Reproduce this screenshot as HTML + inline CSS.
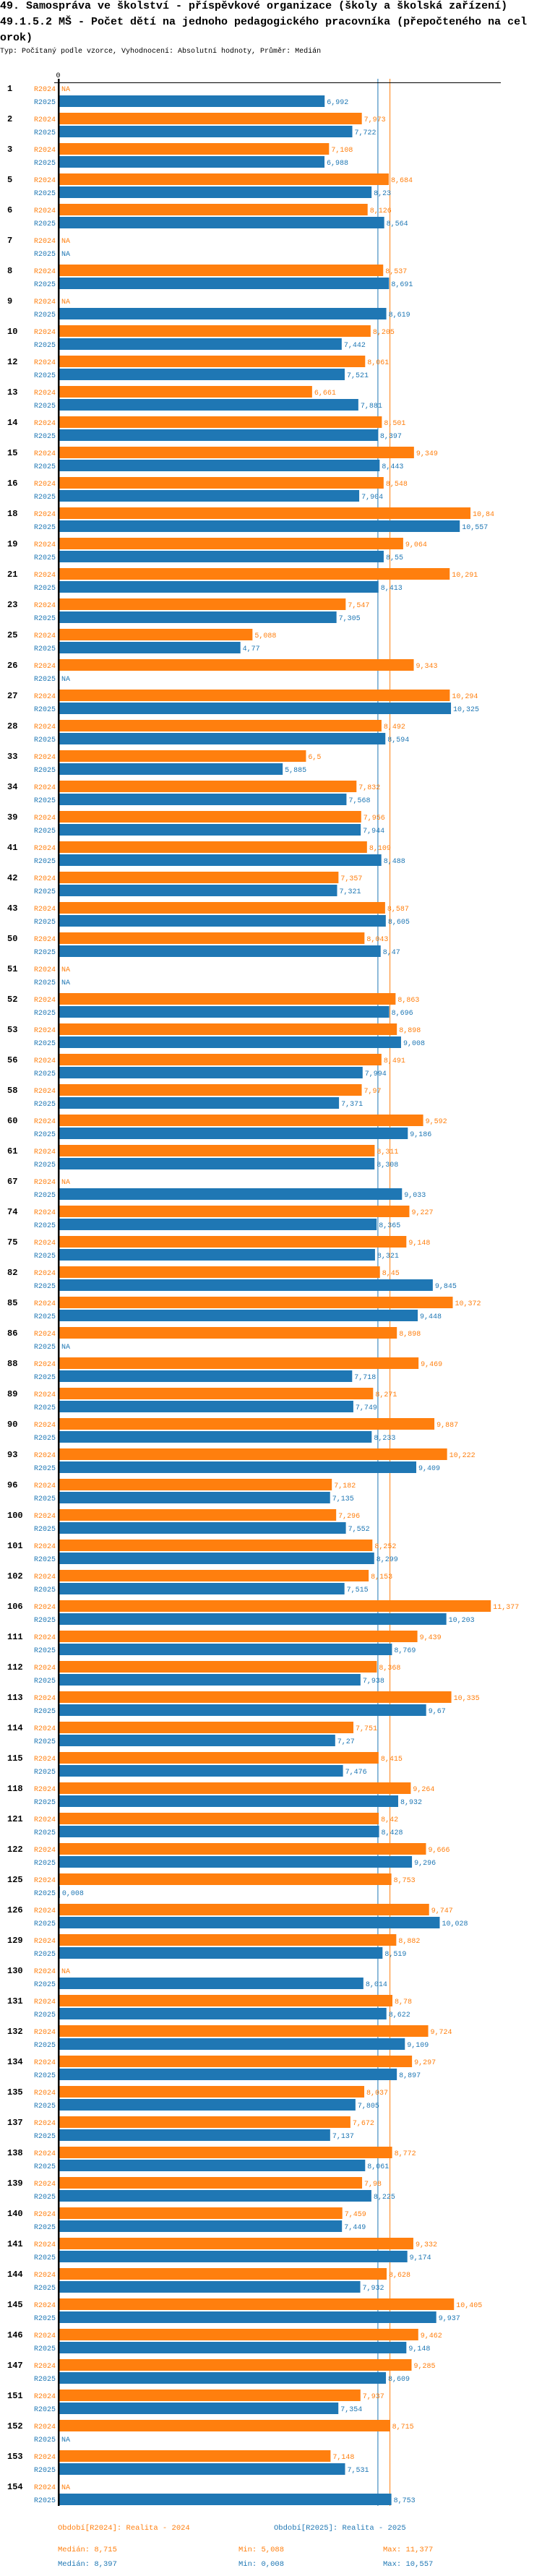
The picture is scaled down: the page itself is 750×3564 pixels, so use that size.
<!DOCTYPE html>
<html>
<head>
<meta charset="utf-8">
<style>
  html,body{margin:0;padding:0;background:#fff;}
  body{width:750px;height:3564px;position:relative;overflow:hidden;font-family:"Liberation Mono",monospace;}
  .title{position:absolute;left:0;font-weight:bold;font-size:15px;color:#000;white-space:nowrap;line-height:22px;}
  .sub{position:absolute;left:0;top:66px;font-size:10px;color:#000;white-space:nowrap;}
  svg{position:absolute;left:0;top:0;}
</style>
</head>
<body>
<div class="title" style="top:-2px">49. Samospráva ve školství - příspěvkové organizace (školy a školská zařízení)</div>
<div class="title" style="top:20px">49.1.5.2 MŠ - Počet dětí na jednoho pedagogického pracovníka (přepočteného na cel</div>
<div class="title" style="top:42px">orok)</div>
<div class="sub">Typ: Počítaný podle vzorce, Vyhodnocení: Absolutní hodnoty, Průměr: Medián</div>
<svg id="chart" width="750" height="3564"></svg>
<script>
const categories = ["1","2","3","5","6","7","8","9","10","12","13","14","15","16","18","19","21","23","25","26","27","28","33","34","39","41","42","43","50","51","52","53","56","58","60","61","67","74","75","82","85","86","88","89","90","93","96","100","101","102","106","111","112","113","114","115","118","121","122","125","126","129","130","131","132","134","135","137","138","139","140","141","144","145","146","147","151","152","153","154"];
const values2024 = [null,7.973,7.108,8.684,8.126,null,8.537,null,8.205,8.061,6.661,8.501,9.349,8.548,10.84,9.064,10.291,7.547,5.088,9.343,10.294,8.492,6.5,7.832,7.956,8.109,7.357,8.587,8.043,null,8.863,8.898,8.491,7.97,9.592,8.311,null,9.227,9.148,8.45,10.372,8.898,9.469,8.271,9.887,10.222,7.182,7.296,8.252,8.153,11.377,9.439,8.368,10.335,7.751,8.415,9.264,8.42,9.666,8.753,9.747,8.882,null,8.78,9.724,9.297,8.037,7.672,8.772,7.98,7.459,9.332,8.628,10.405,9.462,9.285,7.937,8.715,7.148,null];
const values2025 = [6.992,7.722,6.988,8.23,8.564,null,8.691,8.619,7.442,7.521,7.881,8.397,8.443,7.904,10.557,8.55,8.413,7.305,4.77,null,10.325,8.594,5.885,7.568,7.944,8.488,7.321,8.605,8.47,null,8.696,9.008,7.994,7.371,9.186,8.308,9.033,8.365,8.321,9.845,9.448,null,7.718,7.749,8.233,9.409,7.135,7.552,8.299,7.515,10.203,8.769,7.938,9.67,7.27,7.476,8.932,8.428,9.296,0.008,10.028,8.519,8.014,8.622,9.109,8.897,7.805,7.137,8.061,8.225,7.449,9.174,7.932,9.937,9.148,8.609,7.354,null,7.531,8.753];
const median2024 = 8.715, median2025 = 8.397;
const min2024 = 5.088, min2025 = 0.008, max2024 = 11.377, max2025 = 10.557;

const NS = "http://www.w3.org/2000/svg";
const svg = document.getElementById("chart");
const ORANGE = "#ff7f0e", BLUE = "#1f77b4";
const X0 = 82.5, PXU = 52.45, TOP = 114, PITCH = 42, BARH = 16;
const xScale = v => X0 + v * PXU;
const yGroup = i => TOP + i * PITCH;
const fmt = v => String(v).replace(".", ",");
function mk(tag, attrs, text) {
  const e = document.createElementNS(NS, tag);
  for (const k in attrs) e.setAttribute(k, attrs[k]);
  if (text !== undefined) e.textContent = text;
  svg.appendChild(e);
  return e;
}
const bottom = yGroup(categories.length - 1) + PITCH - 7;

// median lines
let l = mk("line", {x1: xScale(median2025), x2: xScale(median2025), y1: 109, y2: bottom, stroke: BLUE, "stroke-width": 1});


l = mk("line", {x1: xScale(median2024), x2: xScale(median2024), y1: 109, y2: bottom, stroke: ORANGE, "stroke-width": 1});



categories.forEach((c, i) => {
  const y = yGroup(i);
  let t = mk("text", {x: 10, y: y + 12, "font-size": 12, "font-weight": "bold", fill: "#000", "font-family": "Liberation Mono, monospace"}, c);
  
  
  [[values2024[i], ORANGE, "R2024", 0], [values2025[i], BLUE, "R2025", 18]].forEach(([v, col, lab, off]) => {
    const yy = y + off;
    let s = mk("text", {x: 77, y: yy + 12, "font-size": 10, fill: col, "text-anchor": "end", "font-family": "Liberation Mono, monospace"}, lab);
    
    
    if (v === null) {
      let n = mk("text", {x: 85, y: yy + 12, "font-size": 10, fill: col, "font-family": "Liberation Mono, monospace"}, "NA");
      
      
    } else {
      const w = xScale(v) - X0;
      let r = mk("rect", {x: X0, y: yy, width: Math.max(w, 0), height: BARH, fill: col});
      
      
      let n = mk("text", {x: X0 + w + 3, y: yy + 12, "font-size": 10, fill: col, "font-family": "Liberation Mono, monospace"}, fmt(v));
      
      
    }
  });
});

// axes
l = mk("line", {x1: 75, x2: 693, y1: 114.5, y2: 114.5, stroke: "#000", "stroke-width": 1});


l = mk("rect", {x: 80, y: 109, width: 2.5, height: bottom - 109, fill: "#000"});


let tk = mk("text", {x: X0 - 2, y: 107, "font-size": 10, fill: "#000", "text-anchor": "middle", "font-family": "Liberation Mono, monospace"}, "0");



// footer legend
function ft(x, y, col, txt, name) {
  const e = mk("text", {x: x, y: y, "font-size": 10.5, fill: col, "font-family": "Liberation Mono, monospace"}, txt);
  
  
}
ft(80, 3500, ORANGE, "Období[R2024]: Realita - 2024", "legend-entry-2024");
ft(379, 3500, BLUE, "Období[R2025]: Realita - 2025", "legend-entry-2025");
ft(80, 3530, ORANGE, "Medián: " + fmt(median2024), "median-2024");
ft(330, 3530, ORANGE, "Min: " + fmt(min2024), "min-2024");
ft(530, 3530, ORANGE, "Max: " + fmt(max2024), "max-2024");
ft(80, 3550, BLUE, "Medián: " + fmt(median2025), "median-2025");
ft(330, 3550, BLUE, "Min: " + fmt(min2025), "min-2025");
ft(530, 3550, BLUE, "Max: " + fmt(max2025), "max-2025");
</script>
</body>
</html>
